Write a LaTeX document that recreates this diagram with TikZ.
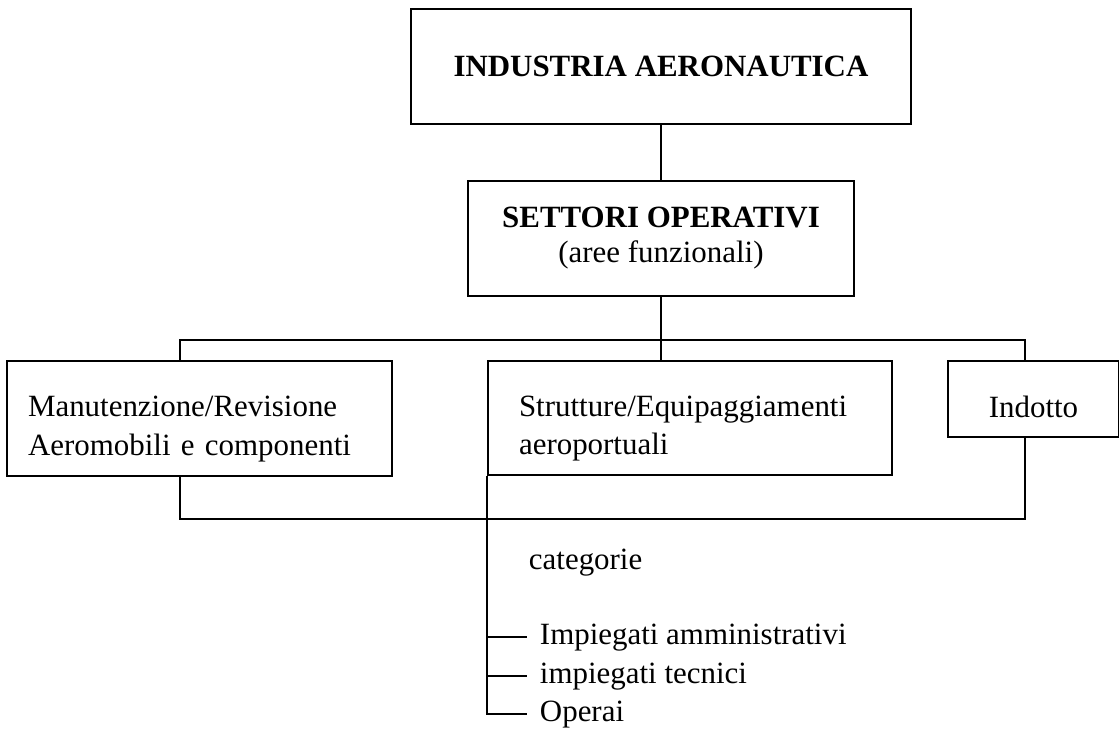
\documentclass[tikz,border=0pt]{standalone}
\usepackage{fontspec}
\setmainfont{Liberation Serif}
\newcommand{\topstrut}{\rule{0pt}{0.84cm}}
\begin{document}
\begin{tikzpicture}[
        x=0.02cm, y=-0.02cm, line width=1.1pt,
        font=\fontsize{17.6pt}{21.9pt}\selectfont,
        head/.style={rectangle,draw,align=center,minimum height=2.3cm},
        area/.style={rectangle,draw,align=left,minimum height=2.3cm},
        catlabel/.style={anchor=base west,inner xsep=0.24cm,text height=0.42cm,text depth=0.14cm}
        ]
        \useasboundingbox (0,0) rectangle (1119,731);
        \node (ind) [head,minimum width=10.02cm] at (661,66.5) {\textbf{INDUSTRIA AERONAUTICA}};
        \node (set) [head,minimum width=7.72cm] at (661,238.5) {\textbf{SETTORI OPERATIVI}\\[-2pt](aree funzionali)};
        \node (man) [area,text width=6.86cm,inner xsep=0.42cm] at (199.5,418.5) {\topstrut Manutenzione/Revisione\\Aeromobili e componenti};
        \node (str) [area,text width=6.84cm,inner xsep=0.62cm,minimum height=2.28cm] at (690,418) {\topstrut Strutture/Equipaggiamenti\\aeroportuali};
        \node (idt) [area,align=center,minimum width=3.42cm,minimum height=1.52cm,text height=0.72cm,text depth=0pt] at (1033.5,399) {Indotto};
        \coordinate (busL) at (180,340);
        \coordinate (busR) at (1025,340);
        \coordinate (baseL) at (180,519);
        \coordinate (baseR) at (1025,519);
        \draw (ind.south) -- (set.north);
        \draw (set.south) -- (set.south |- str.north);
        \draw (busL |- man.north) -- (busL) -- (busR) -- (busR |- idt.north);
        \draw (baseL |- man.south) -- (baseL) -- (baseR) -- (baseR |- idt.south);
        \node (cat) [catlabel] at (516,569) {categorie};
        \node (amm) [catlabel] at (527,644) {Impiegati amministrativi};
        \node (tec) [catlabel] at (527,683) {impiegati tecnici};
        \node (ope) [catlabel] at (527,721) {Operai};
        \draw (str.south west) |- (ope.west);
        \draw (amm.west -| str.south west) -- (amm.west);
        \draw (tec.west -| str.south west) -- (tec.west);
\end{tikzpicture}
\end{document}
